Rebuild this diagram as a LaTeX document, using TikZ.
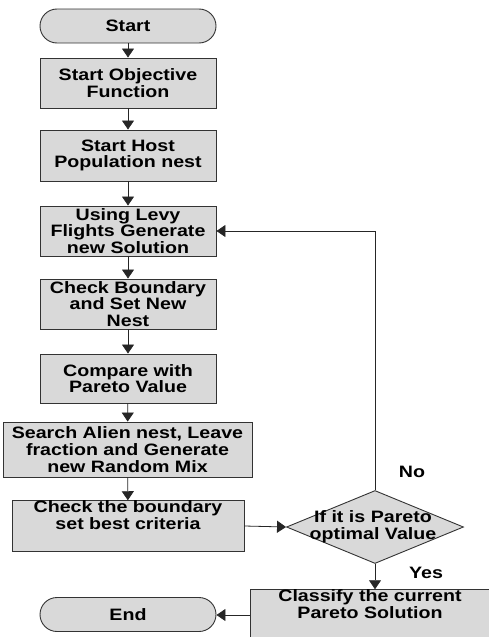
\documentclass[tikz,border=0pt]{standalone}
\usepackage{fontspec}
\setmainfont{Liberation Sans}[FakeStretch=1.19]
\usetikzlibrary{arrows.meta,shapes.geometric}
\begin{document}
\begin{tikzpicture}[x=1pt,y=-1pt,
  every node/.style={font=\fontsize{16.5}{16.8}\selectfont\bfseries, align=center, text=black},
  procbox/.style={draw=black!80, line width=0.9pt, fill=black!15, inner sep=0pt},
  termbox/.style={draw=black!80, line width=0.9pt, fill=black!15, rounded corners=17pt, minimum width=176pt, minimum height=34pt, inner sep=0pt},
  decbox/.style={draw=black!80, line width=0.9pt, fill=black!15, diamond, minimum width=177pt, minimum height=73pt, inner sep=0pt, aspect=2.4},
  conn/.style={draw=black!85, line width=0.8pt, -{Triangle[length=9pt,width=12pt]}},
  lbl/.style={font=\fontsize{16.5}{17}\selectfont\bfseries}
]
\useasboundingbox (0,0) rectangle (489,637);
\node[termbox] (start) at (128,26) {Start};
\node[procbox, minimum width=176pt, minimum height=50pt] (obj) at (128,83) {Start Objective\\Function};
\node[procbox, minimum width=176pt, minimum height=51pt] (host) at (128,155.5) {Start Host\\Population nest};
\node[procbox, minimum width=176pt, minimum height=50pt] (levy) at (128,231) {Using Levy\\Flights Generate\\new Solution};
\node[procbox, minimum width=176pt, minimum height=50pt] (bound) at (128,304) {Check Boundary\\and Set New\\Nest};
\node[procbox, minimum width=176pt, minimum height=49pt] (comp) at (128,378.5) {Compare with\\Pareto Value};
\node[procbox, minimum width=249pt, minimum height=55pt] (alien) at (127.5,449.5) {Search Alien nest, Leave\\fraction and Generate\\new Random Mix};
\node[procbox, minimum width=232pt, minimum height=48pt] (crit) at (128,526) {Check the boundary\\set best criteria\\\strut};
\node[decbox] (dia) at (375,527) {};
\node (diatext) at (373,527) {If it is Pareto\\optimal Value};
\node[procbox, minimum width=240pt, minimum height=46pt] (cls) at (370,615) {Classify the current\\Pareto Solution\\\strut};
\node[termbox] (end) at (128,614.5) {End};
\node[lbl] (no) at (412,472) {No};
\node[lbl] (yes) at (426,573) {Yes};
\coordinate (loopc) at (dia.north |- levy.east);
\draw[conn] (start) -- (obj);
\draw[conn] (obj) -- (host);
\draw[conn] (host) -- (levy);
\draw[conn] (levy) -- (bound);
\draw[conn] (bound) -- (comp);
\draw[conn] (comp) -- (alien);
\draw[conn] (alien) -- (crit);
\draw[conn] (crit.east) -- (dia.west);
\draw[conn] (dia.north) -- (loopc) -- (levy.east);
\draw[conn] (dia.south) -- (dia.south |- cls.north);
\draw[conn] (cls.west) -- (cls.west -| end.east);
\end{tikzpicture}
\end{document}
